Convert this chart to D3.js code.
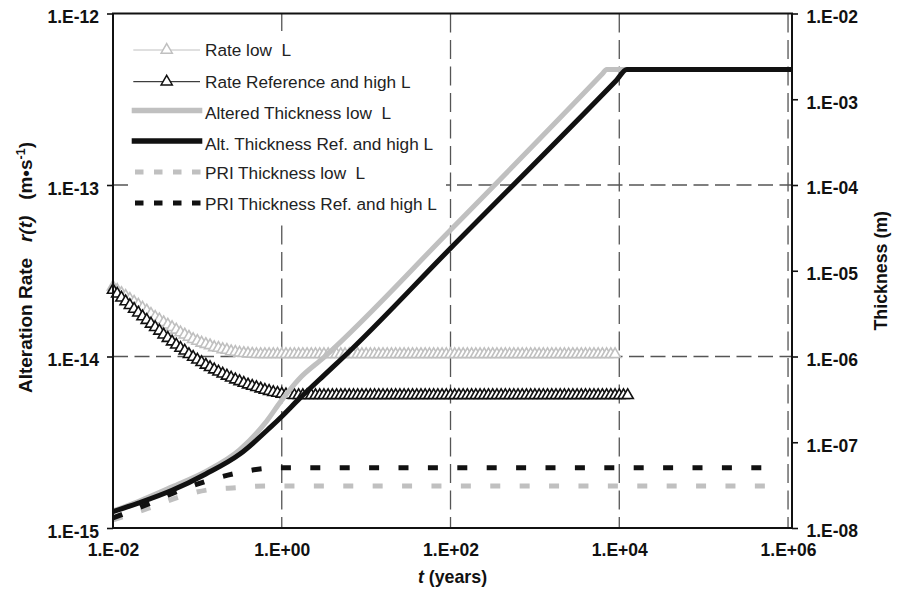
<!DOCTYPE html>
<html><head><meta charset="utf-8">
<script src="https://cdn.jsdelivr.net/npm/d3@7"></script>
<style>
html,body{margin:0;padding:0;background:#fff;}
svg{display:block;font-family:"Liberation Sans",Arial,Helvetica,sans-serif;}
text{white-space:pre;}
</style></head><body>
<svg id="chart" width="898" height="590"></svg>
<script>
// ---- data ----
// exponents of t (years) at which the alteration rate is sampled
const rateLogT = [
-2,-1.95,-1.9,-1.85,-1.8,-1.75,-1.7,-1.65,-1.6,-1.55,
-1.5,-1.45,-1.4,-1.35,-1.3,-1.25,-1.2,-1.15,-1.1,-1.05,
-1,-0.95,-0.9,-0.85,-0.8,-0.75,-0.7,-0.65,-0.6,-0.55,
-0.5,-0.45,-0.4,-0.35,-0.3,-0.25,-0.2,-0.15,-0.1,-0.05,
0,0.05,0.1,0.15,0.2,0.25,0.3,0.35,0.4,0.45,
0.5,0.55,0.6,0.65,0.7,0.75,0.8,0.85,0.9,0.95,
1,1.05,1.1,1.15,1.2,1.25,1.3,1.35,1.4,1.45,
1.5,1.55,1.6,1.65,1.7,1.75,1.8,1.85,1.9,1.95,
2,2.05,2.1,2.15,2.2,2.25,2.3,2.35,2.4,2.45,
2.5,2.55,2.6,2.65,2.7,2.75,2.8,2.85,2.9,2.95,
3,3.05,3.1,3.15,3.2,3.25,3.3,3.35,3.4,3.45,
3.5,3.55,3.6,3.65,3.7,3.75,3.8,3.85,3.9,3.95,
4,4.05,4.1];

// Rate low L  (m/s)
const rateLow = [
2.55e-14,2.44e-14,2.34e-14,2.25e-14,2.16e-14,2.08e-14,2.00e-14,1.92e-14,1.85e-14,1.77e-14,
1.70e-14,1.64e-14,1.58e-14,1.53e-14,1.48e-14,1.43e-14,1.38e-14,1.34e-14,1.30e-14,1.26e-14,
1.23e-14,1.20e-14,1.18e-14,1.16e-14,1.13e-14,1.12e-14,1.10e-14,1.09e-14,1.07e-14,1.06e-14,
1.05e-14,1.045e-14,1.04e-14,1.035e-14,1.03e-14,
1.03e-14,1.03e-14,1.03e-14,1.03e-14,1.03e-14,1.03e-14,1.03e-14,1.03e-14,1.03e-14,1.03e-14,
1.03e-14,1.03e-14,1.03e-14,1.03e-14,1.03e-14,1.03e-14,1.03e-14,1.03e-14,1.03e-14,1.03e-14,
1.03e-14,1.03e-14,1.03e-14,1.03e-14,1.03e-14,1.03e-14,1.03e-14,1.03e-14,1.03e-14,1.03e-14,
1.03e-14,1.03e-14,1.03e-14,1.03e-14,1.03e-14,1.03e-14,1.03e-14,1.03e-14,1.03e-14,1.03e-14,
1.03e-14,1.03e-14,1.03e-14,1.03e-14,1.03e-14,1.03e-14,1.03e-14,1.03e-14,1.03e-14,1.03e-14,
1.03e-14,1.03e-14,1.03e-14,1.03e-14,1.03e-14,1.03e-14,1.03e-14,1.03e-14,1.03e-14,1.03e-14,
1.03e-14,1.03e-14,1.03e-14,1.03e-14,1.03e-14,1.03e-14,1.03e-14,1.03e-14,1.03e-14,1.03e-14,
1.03e-14,1.03e-14,1.03e-14,1.03e-14,1.03e-14,1.03e-14,1.03e-14,1.03e-14,1.03e-14,1.03e-14,
1.03e-14,1.03e-14,1.03e-14,1.03e-14,1.03e-14];

// Rate Reference and high L (m/s)
const rateRef = [
2.44e-14,2.32e-14,2.20e-14,2.09e-14,1.99e-14,1.89e-14,1.80e-14,1.71e-14,1.63e-14,1.55e-14,
1.48e-14,1.41e-14,1.34e-14,1.28e-14,1.22e-14,1.17e-14,1.12e-14,1.08e-14,1.03e-14,9.93e-15,
9.57e-15,9.25e-15,8.93e-15,8.65e-15,8.38e-15,8.15e-15,7.93e-15,7.71e-15,7.52e-15,7.33e-15,
7.16e-15,7.00e-15,6.85e-15,6.73e-15,6.61e-15,6.49e-15,6.38e-15,6.28e-15,6.19e-15,6.12e-15,
6.05e-15,6.00e-15,5.96e-15,
5.94e-15,5.94e-15,5.94e-15,5.94e-15,5.94e-15,5.94e-15,5.94e-15,5.94e-15,5.94e-15,5.94e-15,
5.94e-15,5.94e-15,5.94e-15,5.94e-15,5.94e-15,5.94e-15,5.94e-15,5.94e-15,5.94e-15,5.94e-15,
5.94e-15,5.94e-15,5.94e-15,5.94e-15,5.94e-15,5.94e-15,5.94e-15,5.94e-15,5.94e-15,5.94e-15,
5.94e-15,5.94e-15,5.94e-15,5.94e-15,5.94e-15,5.94e-15,5.94e-15,5.94e-15,5.94e-15,5.94e-15,
5.94e-15,5.94e-15,5.94e-15,5.94e-15,5.94e-15,5.94e-15,5.94e-15,5.94e-15,5.94e-15,5.94e-15,
5.94e-15,5.94e-15,5.94e-15,5.94e-15,5.94e-15,5.94e-15,5.94e-15,5.94e-15,5.94e-15,5.94e-15,
5.94e-15,5.94e-15,5.94e-15,5.94e-15,5.94e-15,5.94e-15,5.94e-15,5.94e-15,5.94e-15,5.94e-15,
5.94e-15,5.94e-15,5.94e-15,5.94e-15,5.94e-15,5.94e-15,5.94e-15,5.94e-15,5.94e-15,5.94e-15];

// Altered thickness (m), right axis
const thickLowLogT = [-2,-1.7,-1.3,-0.9,-0.5,-0.2,0,0.2,0.5,2,3.8,3.85,6.047];
const thickLow     = [1.58e-8,2.04e-8,3.02e-8,4.57e-8,8.13e-8,1.66e-7,3.1e-7,5.4e-7,9.77e-7,2.99e-5,1.98e-3,2.23e-3,2.23e-3];
const thickRefLogT = [-2,-1.7,-1.3,-0.9,-0.5,-0.13,0,0.2,0.5,0.72,2,3.967,4.09,6.047];
const thickRef     = [1.55e-8,1.95e-8,2.75e-8,4.27e-8,7.24e-8,1.51e-7,2.0e-7,3.16e-7,6.03e-7,9.6e-7,1.83e-5,1.67e-3,2.23e-3,2.23e-3];

// PRI thickness (m), right axis
const priLogT = [-2,-1.58,-1.23,-0.89,-0.54,-0.18,0,5.82];
const priLow  = [1.24e-8,1.70e-8,2.28e-8,2.77e-8,2.95e-8,3.09e-8,3.09e-8,3.09e-8];
const priRef  = [1.31e-8,1.91e-8,2.70e-8,3.53e-8,4.35e-8,4.97e-8,5.05e-8,5.05e-8];

// ticks
const xTicks = [1e-2,1,1e2,1e4,1e6];
const xTickLabels = ["1.E-02","1.E+00","1.E+02","1.E+04","1.E+06"];
const yLeftTicks = [1e-15,1e-14,1e-13,1e-12];
const yLeftLabels = ["1.E-15","1.E-14","1.E-13","1.E-12"];
const yRightTicks = [1e-8,1e-7,1e-6,1e-5,1e-4,1e-3,1e-2];
const yRightLabels = ["1.E-08","1.E-07","1.E-06","1.E-05","1.E-04","1.E-03","1.E-02"];
const xGrid = [1,1e2,1e4,1e6];
const yGrid = [1e-14,1e-13];
const legendLabels = ["Rate low  L","Rate Reference and high L","Altered Thickness low  L",
  "Alt. Thickness Ref. and high L","PRI Thickness low  L","PRI Thickness Ref. and high L"];

// ---- drawing ----
const svg = d3.select("#chart");
const L = 113, R = 792, T = 13.5, B = 528;
const x  = d3.scaleLog().domain([1e-2, Math.pow(10, 6.047)]).range([L, R]);
const yL = d3.scaleLog().domain([1e-15, 1e-12]).range([B, T]);
const yR = d3.scaleLog().domain([1e-8, 1e-2]).range([B, T]);
const GRAY = "#c0c0c0", BLACK = "#111";

// gridlines
svg.append("g").selectAll("line").data(xGrid).join("line")
  .attr("x1", d => x(d)).attr("x2", d => x(d)).attr("y1", T).attr("y2", B)
  .attr("stroke", "#555").attr("stroke-width", 1.3).attr("stroke-dasharray", "19,7.5");
svg.append("g").selectAll("line").data(yGrid).join("line")
  .attr("x1", L).attr("x2", R).attr("y1", d => yL(d)).attr("y2", d => yL(d))
  .attr("stroke", "#555").attr("stroke-width", 1.3).attr("stroke-dasharray", "15,6.5");

// legend background (hides gridlines under the legend)
svg.append("rect").attr("x", 128).attr("y", 31).attr("width", 318).attr("height", 187).attr("fill", "#fff");

const tri = d3.symbol().type(d3.symbolTriangle).size(54);

function rateSeries(vals, color) {
  const pts = vals.map((v, i) => [Math.pow(10, rateLogT[i]), v]);
  const g = svg.append("g");
  g.append("path").datum(pts)
    .attr("d", d3.line().x(d => x(d[0])).y(d => yL(d[1])))
    .attr("fill", "none").attr("stroke", color).attr("stroke-width", 1);
  g.selectAll("path.m").data(pts).join("path").attr("class", "m")
    .attr("d", tri).attr("transform", d => `translate(${x(d[0])},${yL(d[1])})`)
    .attr("fill", "#fff").attr("stroke", color).attr("stroke-width", 1.6);
}
rateSeries(rateLow, GRAY);
rateSeries(rateRef, BLACK);

function thickSeries(logT, vals, color, dash) {
  const pts = vals.map((v, i) => [Math.pow(10, logT[i]), v]);
  const p = svg.append("path").datum(pts)
    .attr("d", d3.line().x(d => x(d[0])).y(d => yR(d[1])).curve(d3.curveMonotoneX))
    .attr("fill", "none").attr("stroke", color).attr("stroke-width", 5)
    .attr("stroke-linejoin", "round");
  if (dash) p.attr("stroke-dasharray", dash);
}
thickSeries(thickLowLogT, thickLow, GRAY);
thickSeries(thickRefLogT, thickRef, BLACK);
thickSeries(priLogT, priLow, GRAY, "10,19.4");
thickSeries(priLogT, priRef, BLACK, "10,19.4");

// frame
svg.append("rect").attr("x", L).attr("y", T).attr("width", R - L).attr("height", B - T)
  .attr("fill", "none").attr("stroke", "#111").attr("stroke-width", 2);

// axes
const tickFont = 17.5;
const gl = svg.append("g").attr("transform", `translate(${L},0)`)
  .call(d3.axisLeft(yL).tickValues(yLeftTicks).tickFormat((d, i) => yLeftLabels[i]).tickSize(6).tickPadding(8).tickSizeOuter(0));
const gr = svg.append("g").attr("transform", `translate(${R},0)`)
  .call(d3.axisRight(yR).tickValues(yRightTicks).tickFormat((d, i) => yRightLabels[i]).tickSize(6).tickPadding(8.5).tickSizeOuter(0));
const gb = svg.append("g").attr("transform", `translate(0,${B})`)
  .call(d3.axisBottom(x).tickValues(xTicks).tickFormat((d, i) => xTickLabels[i]).tickSize(0).tickPadding(15.6).tickSizeOuter(0));
[gl, gr, gb].forEach(g => {
  g.select(".domain").remove();
  g.selectAll(".tick line").attr("stroke", "#111").attr("stroke-width", 1.6);
  g.selectAll(".tick text").attr("fill", "#111").attr("font-size", tickFont)
    .attr("font-weight", "bold").attr("font-family", '"Liberation Sans",Arial,sans-serif');
});
gl.selectAll(".tick text").attr("dy", "0.53em");
gr.selectAll(".tick text").attr("dy", "0.5em");

// axis titles
const lt = svg.append("text").attr("transform", `translate(32,267.5) rotate(-90)`)
  .attr("text-anchor", "middle").attr("font-size", 19).attr("font-weight", "bold").attr("fill", "#111");
lt.append("tspan").text("Alteration Rate   ");
lt.append("tspan").attr("font-style", "italic").text("r(t)");
lt.append("tspan").text("   (m•s");
lt.append("tspan").attr("dy", -7.5).attr("font-size", 12.5).text("-1");
lt.append("tspan").attr("dy", 7.5).text(")");

svg.append("text").attr("transform", `translate(887,${(T + B) / 2}) rotate(-90)`)
  .attr("text-anchor", "middle").attr("font-size", 17.8).attr("font-weight", "bold").attr("fill", "#111")
  .text("Thickness (m)");

const bt = svg.append("text").attr("x", (L + R) / 2).attr("y", 583)
  .attr("text-anchor", "middle").attr("font-size", 17.8).attr("font-weight", "bold").attr("fill", "#111");
bt.append("tspan").attr("font-style", "italic").text("t");
bt.append("tspan").text(" (years)");

// legend
const legLineY = [50, 81.7, 110.5, 141, 172, 203];
const legTextY = [55.9, 87.9, 119.2, 149.5, 178.5, 209.7];
const legStyles = [
  {c: GRAY, w: 1, m: true}, {c: BLACK, w: 1, m: true},
  {c: GRAY, w: 5.5}, {c: BLACK, w: 5.5},
  {c: GRAY, w: 5, dash: "8.5,10.5"}, {c: BLACK, w: 5, dash: "8.5,10.5"}];
const lg = svg.append("g");
legendLabels.forEach((lab, i) => {
  const s = legStyles[i], y = legLineY[i];
  const x1 = s.m ? 133.3 : (s.dash ? 135 : 131.7), x2 = s.m ? 200 : (s.dash ? 202 : 202.3);
  const ln = lg.append("line").attr("x1", x1).attr("x2", x2).attr("y1", y).attr("y2", y)
    .attr("stroke", s.c).attr("stroke-width", s.w);
  if (s.dash) ln.attr("stroke-dasharray", s.dash);
  if (s.m) lg.append("path").attr("d", tri).attr("transform", `translate(166.7,${y})`)
    .attr("fill", "#fff").attr("stroke", s.c).attr("stroke-width", 1.5);
  lg.append("text").attr("x", 205).attr("y", legTextY[i]).attr("font-size", 17.2)
    .attr("fill", "#222").text(lab);
});
</script>
</body></html>
